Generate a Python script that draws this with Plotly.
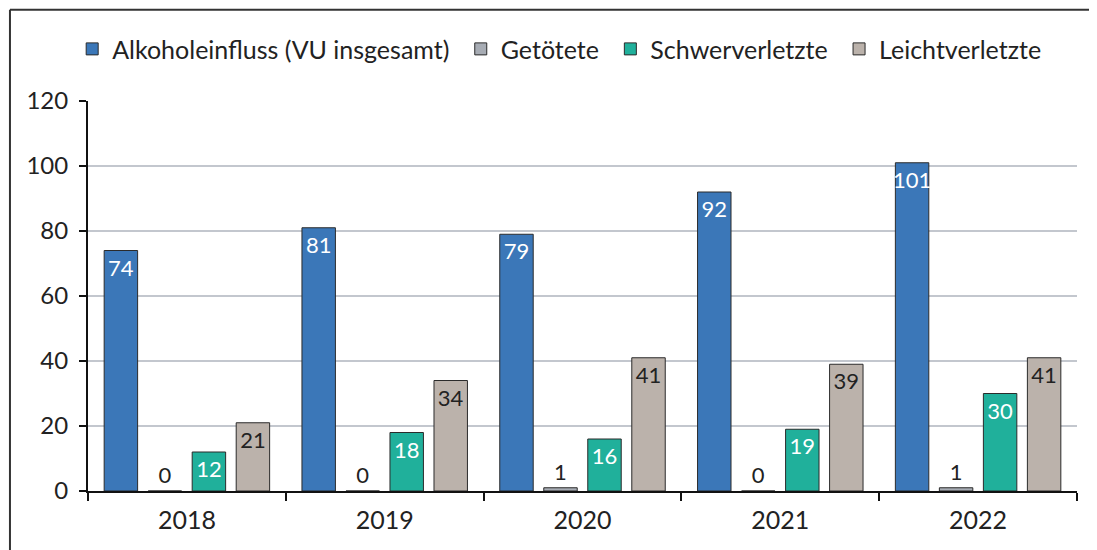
import plotly.graph_objects as go

years = ["2018", "2019", "2020", "2021", "2022"]
series_names = ["Alkoholeinfluss (VU insgesamt)", "Getötete", "Schwerverletzte", "Leichtverletzte"]
alkohol = [74, 81, 79, 92, 101]
getoetete = [0, 0, 1, 0, 1]
schwer = [12, 18, 16, 19, 30]
leicht = [21, 34, 41, 39, 41]
y_ticks = [0, 20, 40, 60, 80, 100, 120]

colors = ["#3b77b8", "#a7acb4", "#20b09b", "#bbb2ab"]
text_colors = ["white", "#222222", "white", "#222222"]
positions = ["inside", "outside", "inside", "inside"]
FONT = "Lato"
FS = 25
PAD = "\u00a0"

fig = go.Figure()
for name, vals, col, tcol, pos in zip(series_names, [alkohol, getoetete, schwer, leicht], colors, text_colors, positions):
    fig.add_trace(go.Bar(
        x=years, y=vals, name=name + PAD,
        marker=dict(color=col, line=dict(color="#2b2b2b", width=1)),
        text=[str(v) for v in vals], textposition=pos,
        insidetextanchor="end", textangle=0,
        textfont=dict(family=FONT, size=22, color=tcol),
        outsidetextfont=dict(family=FONT, size=22, color="#222222"),
        cliponaxis=False,
        constraintext="none",
    ))

fig.update_layout(
    width=1089, height=542,
    margin=dict(l=80, r=20, t=93, b=59, autoexpand=False),
    paper_bgcolor="white", plot_bgcolor="white",
    barmode="group", bargap=0.11, bargroupgap=0.24,
    font=dict(family=FONT, size=FS, color="#222222"),
    legend=dict(orientation="h", x=-0.016, y=1.133, xanchor="left", yanchor="middle",
                font=dict(family=FONT, size=FS, color="#222222"), traceorder="normal",
                itemwidth=30),
    showlegend=True,
    xaxis=dict(type="category", showline=True, linecolor="#111111", linewidth=2,
               ticks="outside", tickson="boundaries", ticklen=8, tickwidth=2, tickcolor="#111111",
               ticklabelstandoff=6,
               tickfont=dict(family=FONT, size=FS, color="#222222"), showgrid=False),
    yaxis=dict(range=[0, 120], tickvals=y_ticks, showline=True, linecolor="#111111", linewidth=2,
               ticks="outside", ticklen=7, tickwidth=2, tickcolor="#111111",
               ticklabelstandoff=6,
               gridcolor="#c3c7ce", gridwidth=1.5, zeroline=False,
               tickfont=dict(family=FONT, size=24, color="#222222")),
    shapes=[
        dict(type="line", xref="paper", yref="paper", x0=-0.0789, x1=1.03, y0=1.234, y1=1.234,
             line=dict(color="#333333", width=2)),
        dict(type="line", xref="paper", yref="paper", x0=-0.0789, x1=-0.0789, y0=1.234, y1=-0.2,
             line=dict(color="#333333", width=2)),
    ],
)

fig.write_html("out.html")
